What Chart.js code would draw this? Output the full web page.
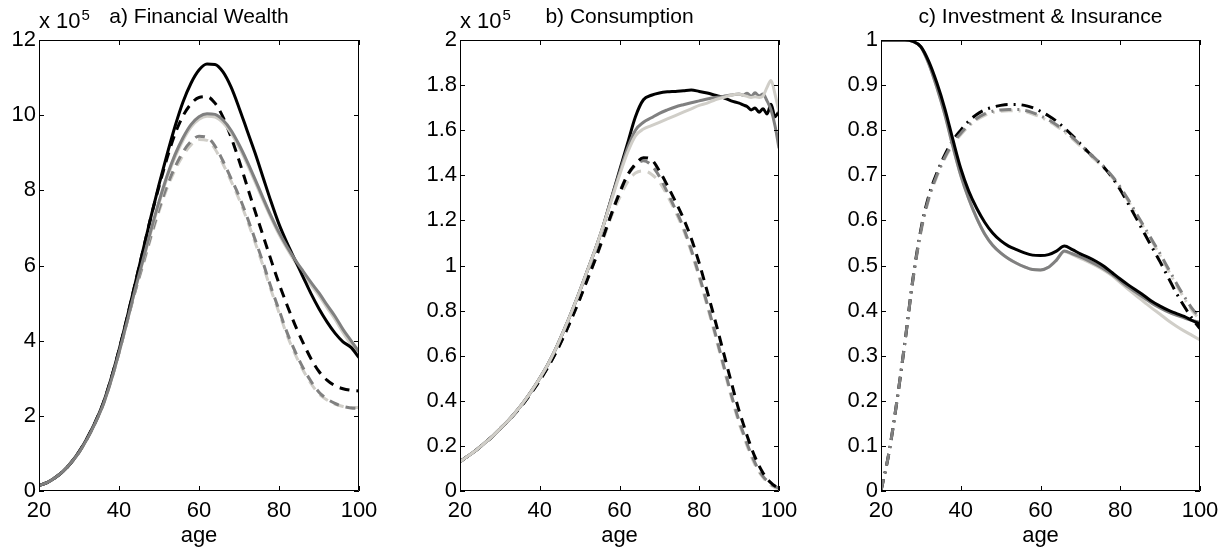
<!DOCTYPE html>
<html>
<head>
<meta charset="utf-8">
<script src="https://cdn.jsdelivr.net/npm/chart.js@4.4.0/dist/chart.umd.min.js"></script>
<style>
  html, body { margin: 0; padding: 0; background: #fff; }
  #wrap { position: relative; width: 1227px; height: 551px; }
  #wrap canvas { position: absolute; left: 0; top: 0; }
</style>
</head>
<body>
<div id="wrap">
  <canvas id="chartA" width="1227" height="551"></canvas>
  <canvas id="chartB" width="1227" height="551"></canvas>
  <canvas id="chartC" width="1227" height="551"></canvas>
</div>
<script>
// ages (years)
const ages = [20,22,24,26,28,30,32,34,36,38,40,42,44,46,48,50,52,54,56,58,60,62,64,66,68,70,72,74,76,78,80,82,84,86,88,90,92,94,96,98,100];
const agesB = [20,22,24,26,28,30,32,34,36,38,40,42,44,46,48,50,52,54,56,58,60,62,64,66,68,70,72,74,76,78,80,82,84,86,88,90,91,92,93,94,95,96,97,98,99,100];

// tick values
const ticksX = [20, 40, 60, 80, 100];
const ticksA = [0, 2, 4, 6, 8, 10, 12];
const ticksB = [0, 0.2, 0.4, 0.6, 0.8, 1, 1.2, 1.4, 1.6, 1.8, 2];
const ticksC = [0, 0.1, 0.2, 0.3, 0.4, 0.5, 0.6, 0.7, 0.8, 0.9, 1];

// a) financial wealth (x 10^5)
const wealthBlack = [0.15,0.22,0.35,0.52,0.75,1.04,1.4,1.82,2.32,2.98,3.75,4.6,5.5,6.4,7.3,8.15,8.95,9.7,10.35,10.85,11.2,11.36,11.35,11.15,10.75,10.2,9.6,9.0,8.35,7.7,7.1,6.6,6.15,5.7,5.25,4.85,4.5,4.2,3.97,3.82,3.55];
const wealthGray = [0.15,0.22,0.35,0.52,0.75,1.03,1.38,1.8,2.29,2.93,3.68,4.5,5.35,6.15,6.95,7.7,8.38,8.95,9.4,9.75,9.96,10.04,10.02,9.87,9.6,9.22,8.78,8.3,7.8,7.32,6.88,6.5,6.16,5.85,5.55,5.27,4.95,4.65,4.3,4.0,3.7];
const wealthLight = [0.15,0.22,0.35,0.52,0.75,1.03,1.38,1.8,2.29,2.93,3.68,4.5,5.35,6.12,6.9,7.65,8.32,8.88,9.33,9.68,9.89,9.97,9.95,9.8,9.53,9.15,8.71,8.23,7.74,7.27,6.83,6.45,6.1,5.78,5.48,5.2,4.88,4.57,4.22,3.9,3.6];
const wealthBlackDash = [0.15,0.22,0.35,0.52,0.75,1.04,1.4,1.82,2.32,2.98,3.75,4.6,5.5,6.4,7.3,8.1,8.85,9.5,9.98,10.3,10.47,10.49,10.32,9.95,9.42,8.8,8.12,7.45,6.8,6.15,5.52,4.95,4.42,3.95,3.52,3.18,2.95,2.8,2.72,2.68,2.66];
const wealthGrayDash = [0.15,0.22,0.35,0.52,0.75,1.03,1.38,1.8,2.29,2.93,3.68,4.5,5.3,6.05,6.8,7.5,8.12,8.62,9.02,9.3,9.44,9.41,9.18,8.78,8.32,7.85,7.3,6.7,6.08,5.42,4.82,4.22,3.72,3.28,2.92,2.63,2.45,2.33,2.25,2.21,2.2];
const wealthLightDash = [0.15,0.22,0.35,0.52,0.75,1.03,1.38,1.8,2.29,2.93,3.68,4.5,5.3,6.0,6.75,7.44,8.05,8.54,8.93,9.21,9.35,9.33,9.1,8.7,8.25,7.77,7.22,6.62,6.0,5.35,4.75,4.15,3.65,3.22,2.86,2.58,2.42,2.31,2.25,2.22,2.22];

// b) consumption (x 10^5)
const consBlack = [0.13,0.155,0.18,0.21,0.24,0.275,0.31,0.35,0.395,0.445,0.5,0.56,0.63,0.71,0.795,0.885,0.98,1.075,1.18,1.3,1.42,1.54,1.66,1.735,1.755,1.765,1.77,1.772,1.775,1.778,1.772,1.765,1.755,1.745,1.73,1.72,1.712,1.705,1.69,1.698,1.68,1.695,1.672,1.715,1.66,1.685];
const consGray = [0.13,0.155,0.18,0.21,0.24,0.275,0.31,0.35,0.395,0.445,0.5,0.56,0.63,0.71,0.795,0.885,0.98,1.075,1.18,1.3,1.41,1.52,1.6,1.635,1.655,1.675,1.69,1.703,1.713,1.722,1.73,1.738,1.745,1.75,1.756,1.76,1.755,1.764,1.75,1.766,1.752,1.76,1.73,1.69,1.62,1.52];
const consLight = [0.13,0.155,0.18,0.21,0.24,0.275,0.31,0.35,0.395,0.445,0.5,0.56,0.63,0.71,0.795,0.885,0.98,1.075,1.18,1.29,1.4,1.5,1.575,1.605,1.62,1.635,1.65,1.665,1.68,1.695,1.71,1.72,1.735,1.745,1.755,1.76,1.755,1.75,1.745,1.748,1.745,1.752,1.79,1.82,1.76,1.68];
const consBlackDash = [0.13,0.155,0.18,0.21,0.24,0.275,0.31,0.348,0.39,0.438,0.49,0.548,0.612,0.685,0.765,0.85,0.94,1.03,1.13,1.23,1.32,1.4,1.45,1.478,1.47,1.42,1.355,1.285,1.21,1.12,1.01,0.885,0.755,0.62,0.485,0.355,0.3,0.245,0.195,0.15,0.112,0.08,0.055,0.036,0.022,0.013];
const consGrayDash = [0.13,0.155,0.18,0.21,0.24,0.275,0.31,0.348,0.39,0.438,0.49,0.548,0.612,0.685,0.765,0.85,0.945,1.035,1.13,1.23,1.325,1.4,1.445,1.465,1.445,1.395,1.325,1.25,1.17,1.07,0.955,0.83,0.7,0.565,0.43,0.31,0.26,0.21,0.165,0.125,0.09,0.065,0.045,0.03,0.02,0.012];
const consLightDash = [0.13,0.155,0.18,0.21,0.24,0.275,0.31,0.348,0.39,0.438,0.49,0.548,0.612,0.685,0.765,0.85,0.94,1.03,1.12,1.22,1.3,1.37,1.41,1.42,1.405,1.37,1.31,1.24,1.16,1.06,0.945,0.82,0.69,0.555,0.42,0.3,0.25,0.2,0.155,0.115,0.085,0.06,0.04,0.025,0.015,0.01];

// c) investment (solid) & insurance (dash-dot)
const invBlack = [1,1,1,1,0.997,0.985,0.952,0.905,0.848,0.78,0.715,0.665,0.627,0.596,0.572,0.555,0.543,0.535,0.528,0.523,0.522,0.524,0.532,0.543,0.535,0.526,0.518,0.509,0.498,0.484,0.47,0.457,0.445,0.433,0.42,0.41,0.401,0.394,0.387,0.378,0.37];
const invGray = [1,1,1,1,0.997,0.985,0.947,0.895,0.835,0.765,0.7,0.648,0.605,0.57,0.545,0.528,0.515,0.505,0.497,0.491,0.49,0.496,0.512,0.532,0.526,0.519,0.511,0.502,0.492,0.48,0.466,0.452,0.44,0.428,0.416,0.406,0.397,0.39,0.384,0.378,0.374];
const invLight = [1,1,1,1,0.997,0.985,0.947,0.895,0.835,0.765,0.7,0.648,0.605,0.57,0.545,0.528,0.515,0.505,0.497,0.491,0.49,0.496,0.512,0.531,0.524,0.516,0.508,0.499,0.489,0.477,0.462,0.447,0.433,0.419,0.405,0.392,0.378,0.366,0.355,0.345,0.335];
const insBlack = [0,0.085,0.2,0.33,0.47,0.58,0.655,0.705,0.745,0.777,0.8,0.82,0.835,0.845,0.851,0.855,0.857,0.857,0.855,0.85,0.842,0.832,0.82,0.805,0.788,0.77,0.751,0.735,0.717,0.695,0.668,0.637,0.605,0.572,0.54,0.508,0.474,0.44,0.41,0.383,0.36];
const insGray = [0,0.085,0.2,0.33,0.468,0.576,0.65,0.7,0.74,0.771,0.793,0.812,0.826,0.836,0.842,0.845,0.846,0.846,0.844,0.839,0.832,0.823,0.812,0.799,0.784,0.768,0.751,0.735,0.718,0.698,0.674,0.646,0.616,0.586,0.556,0.526,0.494,0.462,0.432,0.405,0.385];
const insLight = [0,0.084,0.198,0.328,0.466,0.573,0.647,0.697,0.737,0.768,0.79,0.809,0.823,0.833,0.839,0.842,0.843,0.843,0.841,0.836,0.829,0.82,0.809,0.796,0.781,0.765,0.748,0.732,0.715,0.695,0.671,0.643,0.613,0.583,0.553,0.522,0.49,0.458,0.428,0.4,0.38];

const BLACK = '#000000';
const GRAY = '#808080';
const LIGHT = '#d0cec8';
const DASH = [10, 7];
const DASHDOT = [12, 6, 2, 6];
const FONT = '"Liberation Sans", Arial, Helvetica, sans-serif';

function series(xs, ys, color, dash) {
    return {
        data: xs.map((x, i) => ({ x: x, y: ys[i] })),
        borderColor: color,
        borderDash: dash || [],
        borderWidth: 3,
        pointRadius: 0,
        fill: false,
        cubicInterpolationMode: 'monotone'
    };
}

// draws the MATLAB style box, inward ticks, panel title and exponent
const matlabFrame = {
    id: 'matlabFrame',
    afterDraw(chart, args, opts) {
        const ctx = chart.ctx;
        const a = chart.chartArea;
        const x = chart.scales.x, y = chart.scales.y;
        ctx.save();
        ctx.strokeStyle = '#000';
        ctx.lineWidth = 1;
        ctx.beginPath();
        ctx.rect(a.left + 0.5, a.top + 0.5, a.right - a.left - 1, a.bottom - a.top - 1);
        x.ticks.forEach(t => {
            const px = Math.round(x.getPixelForValue(t.value)) + 0.5;
            ctx.moveTo(px, a.bottom); ctx.lineTo(px, a.bottom - 5);
            ctx.moveTo(px, a.top); ctx.lineTo(px, a.top + 5);
        });
        y.ticks.forEach(t => {
            const py = Math.round(y.getPixelForValue(t.value)) + 0.5;
            ctx.moveTo(a.left, py); ctx.lineTo(a.left + 5, py);
            ctx.moveTo(a.right, py); ctx.lineTo(a.right - 5, py);
        });
        ctx.stroke();

        ctx.fillStyle = '#000';
        ctx.textBaseline = 'alphabetic';
        ctx.font = '21px ' + FONT;
        ctx.textAlign = 'center';
        ctx.fillText(opts.title, (a.left + a.right) / 2, 23);
        if (opts.exponent) {
            ctx.textAlign = 'left';
            ctx.font = '22px ' + FONT;
            ctx.fillText('x 10', a.left, 28);
            const w = ctx.measureText('x 10').width;
            ctx.font = '15px ' + FONT;
            ctx.fillText(opts.exponent, a.left + w + 1, 20);
        }
        ctx.restore();
    }
};

function makePanel(id, datasets, yTicks, yMax, axisWidth, left, right, title, exponent) {
    const tickFont = { family: FONT, size: 22 };
    new Chart(document.getElementById(id).getContext('2d'), {
        type: 'line',
        data: { datasets: datasets },
        options: {
            responsive: false,
            animation: false,
            events: [],
            layout: { padding: { left: left - axisWidth, right: 1227 - right, top: 40, bottom: 0 } },
            plugins: {
                legend: { display: false },
                tooltip: { enabled: false },
                matlabFrame: { title: title, exponent: exponent }
            },
            scales: {
                x: {
                    type: 'linear', min: 20, max: 100,
                    afterBuildTicks: s => { s.ticks = ticksX.map(v => ({ value: v })); },
                    afterFit: s => { s.height = 60; },
                    grid: { display: false, drawTicks: false },
                    border: { display: false },
                    ticks: { font: tickFont, color: '#000', padding: 7, maxRotation: 0, autoSkip: false },
                    title: { display: true, text: 'age', font: tickFont, color: '#000', padding: { top: 0, bottom: 2 } }
                },
                y: {
                    type: 'linear', min: 0, max: yMax,
                    afterBuildTicks: s => { s.ticks = yTicks.map(v => ({ value: v })); },
                    afterFit: s => { s.width = axisWidth; },
                    grid: { display: false, drawTicks: false },
                    border: { display: false },
                    ticks: { font: tickFont, color: '#000', padding: 3, autoSkip: false, callback: v => String(v) }
                }
            }
        },
        plugins: [matlabFrame]
    });
}

// first dataset is drawn on top
makePanel('chartA', [
    series(ages, wealthGray, GRAY),
    series(ages, wealthBlack, BLACK),
    series(ages, wealthLight, LIGHT),
    series(ages, wealthBlackDash, BLACK, DASH),
    series(ages, wealthGrayDash, GRAY, DASH),
    series(ages, wealthLightDash, LIGHT, DASH)
], ticksA, 12, 39, 39, 359, 'a) Financial Wealth', '5');

makePanel('chartB', [
    series(agesB, consLight, LIGHT),
    series(agesB, consGray, GRAY),
    series(agesB, consBlack, BLACK),
    series(agesB, consBlackDash, BLACK, DASH),
    series(agesB, consGrayDash, GRAY, DASH),
    series(agesB, consLightDash, LIGHT, DASH)
], ticksB, 2, 60, 460, 779, 'b) Consumption', '5');

makePanel('chartC', [
    series(ages, invBlack, BLACK),
    series(ages, invGray, GRAY),
    series(ages, invLight, LIGHT),
    series(ages, insGray, GRAY, DASHDOT),
    series(ages, insBlack, BLACK, DASHDOT),
    series(ages, insLight, LIGHT, DASHDOT)
], ticksC, 1, 60, 881, 1200, 'c) Investment & Insurance', null);
</script>
</body>
</html>
